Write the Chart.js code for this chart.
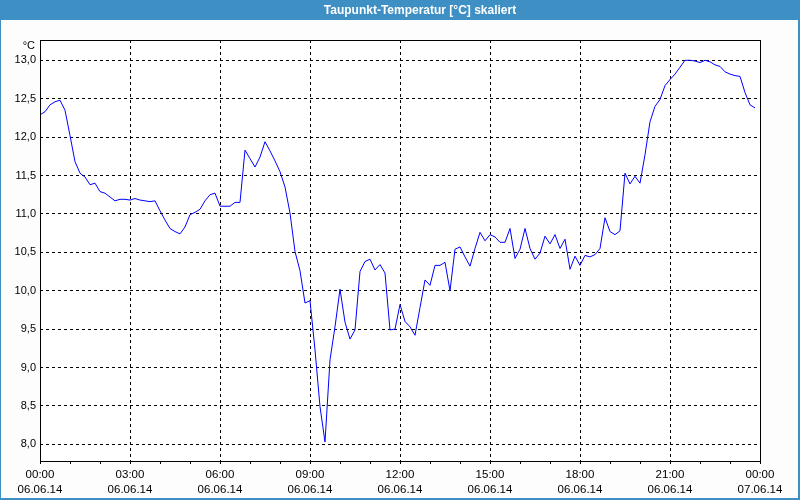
<!DOCTYPE html>
<html>
<head>
<meta charset="utf-8">
<script src="https://cdn.jsdelivr.net/npm/chart.js@4"></script>
<style>
  html, body { margin: 0; padding: 0; background: #fcfdfc; }
  canvas { display: block; }
</style>
</head>
<body>
<canvas id="c" width="800" height="500"></canvas>
<script>
// ---- data ----
const chartTitle = 'Taupunkt-Temperatur [°C] skaliert';
const unitLabel = '°C';
const sampleStepMinutes = 10;          // one reading every 10 minutes, 00:00 .. 23:50
const dewPoint = [
  12.29, 12.33, 12.42, 12.46, 12.48, 12.35, 12.02, 11.68, 11.53, 11.48,
  11.38, 11.40, 11.29, 11.27, 11.22, 11.17, 11.19, 11.19, 11.18, 11.20,
  11.18, 11.17, 11.16, 11.17, 11.04, 10.92, 10.81, 10.77, 10.74, 10.83,
  10.99, 11.02, 11.06, 11.17, 11.25, 11.27, 11.10, 11.10, 11.10, 11.15,
  11.15, 11.83, 11.72, 11.61, 11.74, 11.94, 11.82, 11.69, 11.55, 11.35,
  11.01, 10.51, 10.26, 9.84, 9.87, 9.23, 8.49, 8.03, 9.10, 9.53,
  10.02, 9.59, 9.37, 9.49, 10.25, 10.38, 10.41, 10.27, 10.34, 10.23,
  9.49, 9.50, 9.82, 9.60, 9.53, 9.42, 9.78, 10.14, 10.07, 10.33,
  10.33, 10.37, 10.00, 10.54, 10.57, 10.44, 10.32, 10.55, 10.76, 10.65,
  10.73, 10.70, 10.63, 10.63, 10.81, 10.42, 10.54, 10.81, 10.55, 10.41,
  10.49, 10.71, 10.61, 10.73, 10.55, 10.67, 10.28, 10.45, 10.33, 10.46,
  10.44, 10.47, 10.55, 10.95, 10.77, 10.73, 10.78, 11.53, 11.39, 11.49,
  11.40, 11.77, 12.20, 12.40, 12.49, 12.67, 12.75, 12.82, 12.91, 13.00,
  13.00, 12.99, 12.97, 13.00, 12.98, 12.94, 12.92, 12.85, 12.82, 12.80,
  12.79, 12.58, 12.42, 12.38
];
const xTickTimes = ['00:00', '03:00', '06:00', '09:00', '12:00', '15:00', '18:00', '21:00', '00:00'];
const xTickDates = ['06.06.14', '06.06.14', '06.06.14', '06.06.14', '06.06.14', '06.06.14', '06.06.14', '06.06.14', '07.06.14'];
const yTickValues = [8.0, 8.5, 9.0, 9.5, 10.0, 10.5, 11.0, 11.5, 12.0, 12.5, 13.0];
const yTickLabels = ['8,0', '8,5', '9,0', '9,5', '10,0', '10,5', '11,0', '11,5', '12,0', '12,5', '13,0'];
const xMinHours = 0, xMaxHours = 24, yMin = 7.783, yMax = 13.264;

// ---- styles ----
const FONT = "'Liberation Sans', Arial, sans-serif";
const BAR_BLUE = '#3d8fc4';

const points = dewPoint.map((v, i) => ({ x: i * sampleStepMinutes / 60, y: v }));
const hourTicks = [];
for (let h = xMinHours; h <= xMaxHours; h++) hourTicks.push(h);

const framePlugin = {
  id: 'frame',
  beforeDraw(chart) {
    const { ctx, chartArea: a } = chart;
    ctx.save();
    ctx.fillStyle = '#fcfdfc';
    ctx.fillRect(0, 0, chart.width, chart.height);
    ctx.fillStyle = '#ffffff';
    ctx.fillRect(a.left, a.top, a.right - a.left, a.bottom - a.top);
    ctx.restore();
  },
  afterDraw(chart) {
    const { ctx, chartArea: a } = chart;
    ctx.save();
    // plot border
    ctx.strokeStyle = '#000';
    ctx.lineWidth = 1;
    ctx.setLineDash([]);
    ctx.strokeRect(a.left + 0.5, a.top + 0.5, a.right - a.left, a.bottom - a.top);
    // title bar
    ctx.fillStyle = BAR_BLUE;
    ctx.fillRect(0, 0, chart.width, 20);
    // window edges
    ctx.fillRect(0, 0, 1, chart.height);
    ctx.fillRect(chart.width - 2, 0, 2, chart.height);
    ctx.fillRect(0, chart.height - 2, chart.width, 2);
    // title text
    ctx.fillStyle = '#ffffff';
    ctx.font = 'bold 12px ' + FONT;
    ctx.textAlign = 'center';
    ctx.textBaseline = 'middle';
    ctx.fillText(chartTitle, 420, 10.5);
    // unit label
    ctx.fillStyle = '#000';
    ctx.font = '11px ' + FONT;
    ctx.textAlign = 'right';
    ctx.fillText(unitLabel, 35, 45.5);
    ctx.restore();
  }
};

new Chart(document.getElementById('c'), {
  type: 'line',
  data: {
    datasets: [{
      data: points,
      borderColor: '#0000ff',
      borderWidth: 1,
      pointRadius: 0,
      tension: 0,
      fill: false
    }]
  },
  options: {
    responsive: false,
    animation: false,
    devicePixelRatio: 1,
    layout: { padding: { top: 40, right: 40, left: 0, bottom: 0 } },
    plugins: { legend: { display: false }, title: { display: false }, tooltip: { enabled: false } },
    scales: {
      x: {
        type: 'linear',
        min: xMinHours,
        max: xMaxHours,
        afterBuildTicks: (s) => { s.ticks = hourTicks.map(v => ({ value: v })); },
        afterFit: (s) => { s.height = 39; },
        border: { display: false, dash: [3, 3] },
        grid: {
          color: (c) => (c.tick && c.tick.value % 3 === 0) ? '#000' : 'rgba(0,0,0,0)',
          lineWidth: 1,
          drawTicks: true,
          tickLength: 3,
          tickColor: '#000',
          tickBorderDash: [1, 0]
        },
        ticks: {
          autoSkip: false,
          maxRotation: 0,
          minRotation: 0,
          padding: 3,
          color: '#000',
          font: { family: FONT, size: 11.5, lineHeight: 15 / 11.5 },
          callback: (v) => (v % 3 === 0) ? [xTickTimes[v / 3], xTickDates[v / 3]] : ''
        }
      },
      y: {
        type: 'linear',
        min: yMin,
        max: yMax,
        afterBuildTicks: (s) => { s.ticks = yTickValues.map(v => ({ value: v })); },
        afterFit: (s) => { s.width = 40; },
        border: { display: false, dash: [3, 3] },
        grid: { color: '#000', lineWidth: 1, drawTicks: false },
        ticks: {
          padding: 4,
          color: '#000',
          font: { family: FONT, size: 11 },
          callback: (v) => { const i = yTickValues.indexOf(v); return i >= 0 ? yTickLabels[i] : ''; }
        }
      }
    }
  },
  plugins: [framePlugin]
});
</script>
</body>
</html>
